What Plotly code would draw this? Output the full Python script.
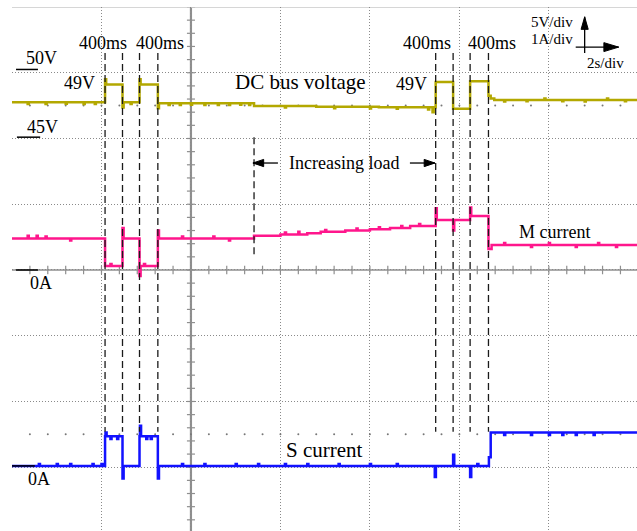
import plotly.graph_objects as go

# ---------------------------------------------------------------- data
# time base: 2 s/div, 7 divisions across the screen
T_END = 13.97

# DC bus voltage (V): step levels between switching instants
volt_edges = [0.00, 2.08, 2.47, 2.85, 3.26, 5.41, 6.80, 8.20, 9.47, 9.86, 10.24, 10.65, 10.70, 10.78]
volt_levels = [47.75, 49.10, 47.75, 49.10, 47.68, 47.47, 47.42, 47.37, 49.30, 47.27, 49.35, 48.25, 48.05, 47.93]
volt_spike_t = [2.08, 2.47, 2.85, 3.26, 0.35, 0.75, 1.20, 1.60, 1.85, 2.65, 3.50, 3.75, 4.00, 4.30,
                4.60, 4.85, 5.10, 5.30, 6.10, 7.20, 8.00, 8.60, 9.30, 9.40, 11.00, 11.50, 11.90,
                12.30, 12.80, 13.30, 13.70]
volt_spike_v = [49.50, 47.35, 49.50, 47.30, 47.62, 47.62, 47.64, 47.62, 47.63, 47.62, 47.55, 47.54, 47.56, 47.55,
                47.54, 47.55, 47.56, 47.54, 47.35, 47.30, 47.28, 47.26, 47.20, 47.00, 47.82, 47.83, 48.05,
                47.83, 47.82, 48.04, 47.83]

# M current (A)
m_edges = [0.00, 2.08, 2.47, 2.85, 3.26, 5.41, 6.00, 6.60, 6.90, 7.45, 8.00, 8.45, 8.90, 9.47, 10.24, 10.65, 10.72]
m_levels = [0.48, 0.06, 0.48, 0.06, 0.48, 0.52, 0.54, 0.56, 0.58, 0.60, 0.62, 0.64, 0.67, 0.76, 0.82, 0.32, 0.38]
m_spike_t = [2.47, 2.85, 3.26, 9.47, 9.86, 10.24, 0.35, 0.55, 0.75, 1.30, 2.20, 2.95, 3.80, 4.50,
             4.85, 6.10, 6.40, 7.00, 7.70, 8.20, 8.70, 9.10, 11.00, 11.60, 12.00, 12.60, 13.10, 13.50]
m_spike_v = [0.64, -0.09, 0.60, 0.94, 0.60, 0.95, 0.52, 0.52, 0.51, 0.45, 0.09, 0.09, 0.51, 0.51,
             0.45, 0.57, 0.58, 0.61, 0.63, 0.65, 0.67, 0.70, 0.41, 0.35, 0.41, 0.35, 0.41, 0.35]

# S current (A)
s_edges = [0.00, 2.08, 2.47, 2.85, 3.26, 10.66, 10.70]
s_levels = [0.02, 0.47, 0.02, 0.47, 0.02, 0.15, 0.53]
s_spike_t = [2.09, 2.47, 2.86, 3.26, 9.45, 9.86, 10.24, 0.60, 1.00, 1.30, 1.80, 2.00, 2.20, 2.35,
             3.00, 3.10, 3.80, 4.30, 5.00, 5.50, 6.10, 6.60, 7.30, 8.00, 8.60, 10.40,
             11.00, 11.60, 12.00, 12.30, 12.60, 13.00]
s_spike_v = [0.53, -0.17, 0.63, -0.17, -0.15, 0.19, -0.15, 0.05, 0.05, 0.05, 0.05, 0.05, 0.43, 0.43,
             0.43, 0.43, 0.05, 0.05, 0.05, 0.05, 0.05, 0.05, 0.05, 0.05, 0.05, 0.05,
             0.49, 0.49, 0.49, 0.49, 0.49, 0.49]

# instants of the 400 ms switching intervals and the start of the load ramp
pulse_edges = [2.08, 2.47, 2.85, 3.26, 9.47, 9.86, 10.24, 10.65]
load_start = 5.41

# scope scales: volts/div, amps/div, and channel ground offsets in divisions
V_PER_DIV, V_OFFSET = 5.0, 35.0
S_OFFSET_DIV = -3.0
DIV_TOP, DIV_BOT = 4.0, -3.97

FONT = "Liberation Serif"
C_V, C_M, C_S = "#b3a800", "#ff168c", "#1212ff"


def step_points(edges, levels, t_end, spike_t, spike_v):
    pts = list(zip(list(edges) + [t_end], list(levels) + [levels[-1]]))
    for ts, sv in zip(spike_t, spike_v):
        idx = max(i for i, e in enumerate(edges) if e <= ts)
        pts.append((ts, sv))
        pts.append((ts + 0.025, levels[idx]))
    pts.sort(key=lambda p: p[0])
    return [p[0] for p in pts], [p[1] for p in pts]


fig = go.Figure()

vx, vy = step_points(volt_edges, volt_levels, T_END, volt_spike_t, volt_spike_v)
mx, my = step_points(m_edges, m_levels, T_END, m_spike_t, m_spike_v)
sx, sy = step_points(s_edges, s_levels, T_END, s_spike_t, s_spike_v)

# half-division dotted marks
for row in (2.5, -2.5):
    fig.add_trace(go.Scatter(x=[k * 0.4 for k in range(1, 35)], y=[row] * 34, mode="markers",
                             marker=dict(size=2, color="#777"), yaxis="y", hoverinfo="skip",
                             showlegend=False))

fig.add_trace(go.Scatter(x=vx, y=vy, mode="lines", line=dict(color=C_V, width=2.5, shape="hv"),
                         yaxis="y2", showlegend=False))
fig.add_trace(go.Scatter(x=mx, y=my, mode="lines", line=dict(color=C_M, width=2.5, shape="hv"),
                         yaxis="y", showlegend=False))
fig.add_trace(go.Scatter(x=sx, y=sy, mode="lines", line=dict(color=C_S, width=2.5, shape="hv"),
                         yaxis="y3", showlegend=False))

shapes = []
# graticule centre axes with minor ticks
shapes.append(dict(type="line", xref="x", yref="y", x0=4, x1=4, y0=DIV_BOT, y1=DIV_TOP,
                   line=dict(color="#8f8f8f", width=2.2), layer="below"))
shapes.append(dict(type="line", xref="x", yref="y", x0=0, x1=T_END, y0=0, y1=0,
                   line=dict(color="#8f8f8f", width=1.5), layer="below"))
for k in range(-19, 21):
    yv = k * 0.2
    shapes.append(dict(type="line", xref="x", yref="y", x0=3.91, x1=4.09, y0=yv, y1=yv,
                       line=dict(color="#8f8f8f", width=1.2), layer="below"))
for k in range(1, 35):
    tv = k * 0.4
    shapes.append(dict(type="line", xref="x", yref="y", x0=tv, x1=tv, y0=-0.065, y1=0.065,
                       line=dict(color="#8f8f8f", width=1.2), layer="below"))
shapes.append(dict(type="line", xref="x", yref="y", x0=0, x1=T_END, y0=DIV_TOP, y1=DIV_TOP,
                   line=dict(color="#c8c8c8", width=1.5), layer="below"))

# dashed markers of the switching instants
for t in pulse_edges:
    shapes.append(dict(type="line", xref="x", yref="y", x0=t, x1=t, y0=3.30, y1=-2.46,
                       line=dict(color="#1a1a1a", width=1.3, dash="7px,4px")))
shapes.append(dict(type="line", xref="x", yref="y", x0=load_start, x1=load_start, y0=2.02, y1=0.2,
                   line=dict(color="#1a1a1a", width=1.3, dash="7px,4px")))

# channel reference level marks
for (x0, x1, yy) in [(0.09, 0.58, 3.05), (0.11, 0.63, 2.02), (0.09, 0.58, 0.0), (0.0, 0.51, -2.98)]:
    shapes.append(dict(type="line", xref="x", yref="y", x0=x0, x1=x1, y0=yy, y1=yy,
                       line=dict(color="black", width=1.5)))


def arrow(x0, y0, x1, y1, hl, hw, horizontal):
    shapes.append(dict(type="line", xref="x", yref="y", x0=x0, y0=y0, x1=x1, y1=y1,
                       line=dict(color="black", width=1.3)))
    if horizontal:
        d = 1 if x1 > x0 else -1
        bx = x1 - d * hl
        path = f"M {x1},{y1} L {bx},{y1 + hw} L {bx},{y1 - hw} Z"
    else:
        d = 1 if y1 > y0 else -1
        by = y1 - d * hl
        path = f"M {x1},{y1} L {x1 + hw},{by} L {x1 - hw},{by} Z"
    shapes.append(dict(type="path", xref="x", yref="y", path=path, fillcolor="black",
                       line=dict(color="black", width=1)))


arrow(5.944, 1.627, 5.385, 1.627, 0.24, 0.055, True)
arrow(8.894, 1.627, 9.453, 1.627, 0.24, 0.055, True)
arrow(12.80, 3.30, 12.80, 3.85, 0.19, 0.08, False)
arrow(12.60, 3.39, 13.56, 3.39, 0.33, 0.068, True)

ann = []


def label(t, d, text, size):
    ann.append(dict(x=t, y=d, xref="x", yref="y", text=text, showarrow=False,
                    font=dict(family=FONT, size=size, color="black")))


for xt in (2.03, 3.31, 9.27, 10.73):
    label(xt, 3.45, "400ms", 18)
label(1.51, 2.84, "49V", 18)
label(8.92, 2.83, "49V", 18)
label(6.44, 2.86, "DC bus voltage", 21)
label(7.41, 1.63, "Increasing load", 18)
label(12.12, 0.58, "M current", 18)
label(6.98, -2.74, "S current", 21)
label(0.66, 3.23, "50V", 18)
label(0.68, 2.17, "45V", 18)
label(0.65, -0.20, "0A", 18)
label(0.60, -3.18, "0A", 18)
label(12.07, 3.77, "5V/div", 15)
label(12.07, 3.51, "1A/div", 15)
label(13.27, 3.15, "2s/div", 15)

grid = dict(showgrid=True, gridcolor="#8a8a8a", gridwidth=1, griddash="1px,2px",
            zeroline=False, showticklabels=False, ticks="", showline=False)

fig.update_layout(
    width=637, height=531,
    margin=dict(l=12, r=0, t=7, b=0),
    paper_bgcolor="white", plot_bgcolor="white",
    xaxis=dict(range=[0, T_END], dtick=2, tick0=0, **grid),
    yaxis=dict(range=[DIV_BOT, DIV_TOP], dtick=1, tick0=0, **grid),
    yaxis2=dict(range=[V_OFFSET + V_PER_DIV * DIV_BOT, V_OFFSET + V_PER_DIV * DIV_TOP],
                overlaying="y", visible=False),
    yaxis3=dict(range=[DIV_BOT - S_OFFSET_DIV, DIV_TOP - S_OFFSET_DIV],
                overlaying="y", visible=False),
    shapes=shapes, annotations=ann, showlegend=False,
)

fig.write_html("out.html")
